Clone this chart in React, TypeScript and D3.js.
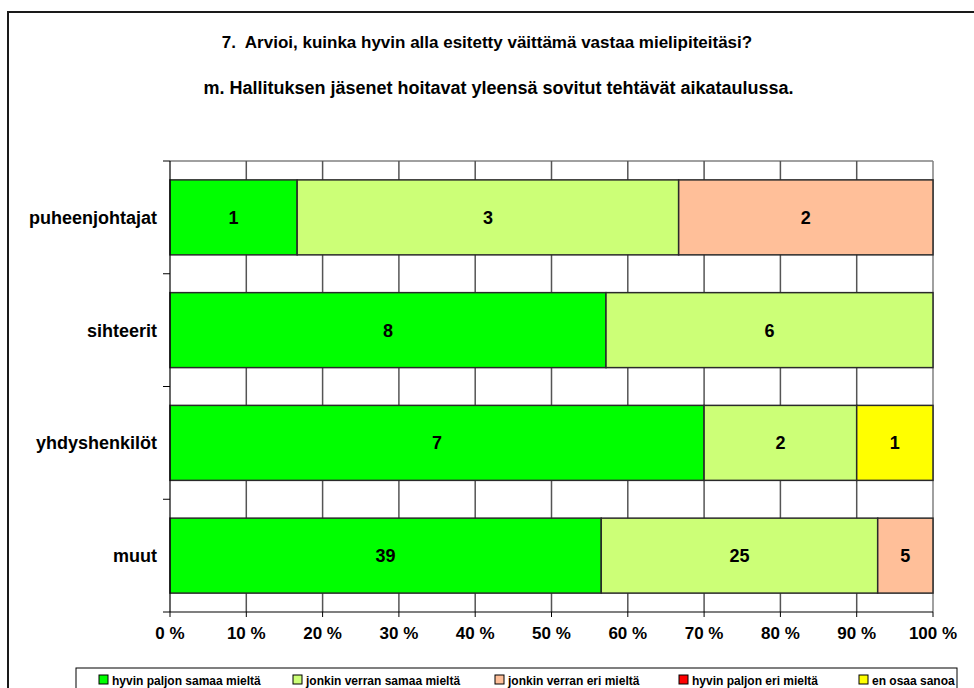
import React from "react";
import * as d3 from "d3";

const categories = ["puheenjohtajat", "sihteerit", "yhdyshenkilöt", "muut"];
const seriesNames = [
  "hyvin paljon samaa mieltä",
  "jonkin verran samaa mieltä",
  "jonkin verran eri mieltä",
  "hyvin paljon eri mieltä",
  "en osaa sanoa",
];
const seriesColors = ["#00FF00", "#CCFF77", "#FFBF99", "#FF0000", "#FFFF00"];
const hyvinSamaa = [1, 8, 7, 39];
const jonkinSamaa = [3, 6, 2, 25];
const jonkinEri = [2, 0, 0, 5];
const hyvinEri = [0, 0, 0, 0];
const enOsaa = [0, 0, 1, 0];
const tickValues = [0, 10, 20, 30, 40, 50, 60, 70, 80, 90, 100];
const title1 = "7.  Arvioi, kuinka hyvin alla esitetty väittämä vastaa mielipiteitäsi?";
const title2 = "m. Hallituksen jäsenet hoitavat yleensä sovitut tehtävät aikataulussa.";

const W = 974;
const H = 688;
const FONT = "Arial, 'Liberation Sans', sans-serif";

export default function App() {
  const series = [hyvinSamaa, jonkinSamaa, jonkinEri, hyvinEri, enOsaa];
  const rows = categories.map((c, i) => {
    const vals = series.map((s) => s[i]);
    const total = d3.sum(vals);
    let acc = 0;
    return vals.map((v, k) => {
      const x0 = (acc / total) * 100;
      acc += v;
      const x1 = (acc / total) * 100;
      return { cat: c, k, v, x0, x1 };
    });
  });

  const left = 170, right = 933, top = 161, bottom = 612;
  const x = d3.scaleLinear().domain([0, 100]).range([left, right]);
  const y = d3.scaleBand<string>().domain(categories).range([top, bottom]).paddingInner(0.335).paddingOuter(0.1675);
  const bandStep = (bottom - top) / categories.length;

  const legendX = [104, 298, 500, 684, 864];

  return (
    <svg width={W} height={H} style={{ position: "absolute", left: 0, top: 0, background: "#fff" }} fontFamily={FONT}>
      <rect x={0} y={0} width={W} height={H} fill="#fff" />
      <rect x={8} y={12} width={W + 20} height={H + 20} fill="none" stroke="#1a1a1a" strokeWidth={2} />
      <text x={487} y={48} textAnchor="middle" fontSize={17} fontWeight="bold" fill="#000" style={{ whiteSpace: "pre" }}>{title1}</text>
      <text x={498.5} y={94} textAnchor="middle" fontSize={18} fontWeight="bold" fill="#000">{title2}</text>

      {/* plot border */}
      <line x1={left} x2={right} y1={top} y2={top} stroke="#808080" strokeWidth={1.5} />
      <line x1={right} x2={right} y1={top} y2={bottom} stroke="#808080" strokeWidth={1.5} />
      {/* gridlines */}
      {tickValues.slice(1, -1).map((t) => (
        <line key={t} x1={x(t)} x2={x(t)} y1={top} y2={bottom} stroke="#555" strokeWidth={1.5} />
      ))}

      {/* bars */}
      {rows.map((r) =>
        r.filter((d) => d.v > 0).map((d) => (
          <g key={d.cat + d.k}>
            <rect x={x(d.x0)} y={y(d.cat)} width={x(d.x1) - x(d.x0)} height={y.bandwidth()} fill={seriesColors[d.k]} stroke="#2a2a2a" strokeWidth={1.5} />
            <text x={(x(d.x0) + x(d.x1)) / 2} y={(y(d.cat) as number) + y.bandwidth() / 2 + 6.5} textAnchor="middle" fontSize={18} fontWeight="bold" fill="#000">{d.v}</text>
          </g>
        ))
      )}

      {/* axes */}
      <line x1={left} x2={left} y1={top} y2={bottom} stroke="#000" strokeWidth={1.2} />
      <line x1={left} x2={right} y1={bottom} y2={bottom} stroke="#000" strokeWidth={1.2} />
      {d3.range(categories.length + 1).map((i) => (
        <line key={"yt" + i} x1={left - 7} x2={left} y1={top + i * bandStep} y2={top + i * bandStep} stroke="#000" strokeWidth={1} />
      ))}
      {tickValues.map((t) => (
        <g key={"xt" + t}>
          <line x1={x(t)} x2={x(t)} y1={bottom} y2={bottom + 5} stroke="#000" strokeWidth={1} />
          <text x={x(t)} y={bottom + 27} textAnchor="middle" fontSize={17} fontWeight="bold" fill="#000">{t} %</text>
        </g>
      ))}
      {categories.map((c) => (
        <text key={c} x={157} y={(y(c) as number) + y.bandwidth() / 2 + 6.5} textAnchor="end" fontSize={18} fontWeight="bold" fill="#000">{c}</text>
      ))}

      {/* legend */}
      <rect x={76} y={668} width={881} height={40} fill="#fff" stroke="#000" strokeWidth={1} />
      {seriesNames.map((n, i) => (
        <g key={n}>
          <rect x={legendX[i] - 5} y={675} width={9} height={9} fill={seriesColors[i]} stroke="#000" strokeWidth={1} />
          <text x={legendX[i] + 8} y={684.5} fontSize={12} fontWeight="bold" fill="#000">{n}</text>
        </g>
      ))}
    </svg>
  );
}
